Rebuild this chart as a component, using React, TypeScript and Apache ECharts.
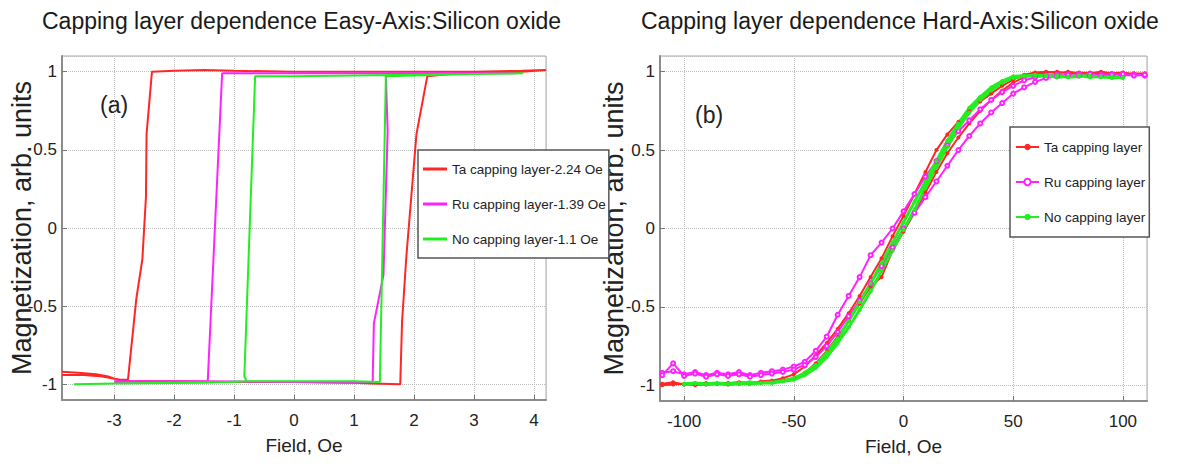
import React, { useEffect, useRef } from "react";
import * as echarts from "echarts";

const SANS = "'Liberation Sans', Arial, sans-serif";

const titleEasy = "Capping layer dependence Easy-Axis:Silicon oxide";
const titleHard = "Capping layer dependence Hard-Axis:Silicon oxide";
const axisNameX = "Field, Oe";
const axisNameY = "Magnetization, arb. units";

const easyNames = ["Ta capping layer-2.24 Oe", "Ru capping layer-1.39 Oe", "No capping layer-1.1 Oe"];
const hardNames = ["Ta capping layer", "Ru capping layer", "No capping layer"];
const colors = ["#ff2626", "#ff22ff", "#22ee22"];

// Easy axis loops: [field Oe, magnetization]
const taEasy = [
  [-3.87, -0.92], [-3.6, -0.925], [-3.3, -0.935], [-3.1, -0.95], [-2.95, -0.97], [-2.77, -0.98],
  [-2.0, -0.98], [-1.0, -0.985], [0, -0.985], [1.0, -0.99], [1.3, -0.995], [1.77, -1.0],
  [1.8, -0.6], [1.87, -0.19], [2.04, 0.6], [2.22, 0.97], [2.6, 0.985], [3.0, 0.99], [3.5, 0.995],
  [3.8, 1.0], [4.2, 1.01], [3.8, 1.005], [3.0, 1.0], [2.0, 1.0], [1.0, 1.0], [0, 1.0], [-1.0, 1.005],
  [-1.5, 1.01], [-2.0, 1.005], [-2.37, 1.0], [-2.46, 0.6], [-2.47, 0.2], [-2.53, -0.2], [-2.63, -0.45],
  [-2.77, -0.97], [-2.9, -0.97], [-3.2, -0.95], [-3.5, -0.94], [-3.87, -0.94],
];
const ruEasy = [
  [-3.0, -0.98], [-1.44, -0.98], [0, -0.985], [1.0, -0.99], [1.31, -0.985], [1.33, -0.61],
  [1.49, -0.3], [1.56, 0.62], [1.53, 0.97], [2.0, 0.985], [3.0, 0.99], [3.7, 0.99], [3.0, 0.99],
  [1.0, 0.99], [0, 0.99], [-1.0, 0.99], [-1.2, 0.99], [-1.44, -0.98], [-1.6, -0.98], [-3.0, -0.985],
];
const noEasy = [
  [-3.67, -1.0], [-3.0, -0.995], [-2.0, -0.99], [-1.0, -0.985], [-0.79, -0.98], [0, -0.98],
  [1.0, -0.98], [1.43, -0.985], [1.53, 0.97], [2.0, 0.975], [3.0, 0.985], [3.82, 0.99], [3.0, 0.985],
  [2.0, 0.98], [1.0, 0.975], [0, 0.97], [-0.65, 0.97], [-0.83, -0.95], [-0.79, -0.98], [-1.5, -0.99],
  [-3.0, -0.995], [-3.67, -1.0],
];

// Hard axis sweeps, field in Oe
const hardField = [
  -110, -105, -100, -95, -90, -85, -80, -75, -70, -65, -60, -55, -50, -45, -40, -35, -30, -25, -20, -15,
  -10, -5, 0, 5, 10, 15, 20, 25, 30, 35, 40, 45, 50, 55, 60, 65, 70, 75, 80, 85, 90, 95, 100, 105, 110,
];
const taHardA = [
  -0.99, -0.98, -0.995, -0.99, -0.985, -0.99, -0.985, -0.98, -0.985, -0.975, -0.97, -0.955, -0.93, -0.88,
  -0.81, -0.73, -0.64, -0.54, -0.43, -0.31, -0.19, -0.05, 0.08, 0.22, 0.36, 0.5, 0.6, 0.68, 0.75, 0.81,
  0.86, 0.91, 0.95, 0.98, 0.995, 1.0, 0.99, 1.0, 0.99, 0.995, 0.985, 0.99, 0.985, 0.99, 0.985,
];
const taHardB = [
  -1.0, -0.995, -0.99, -1.0, -0.995, -0.99, -0.995, -0.99, -0.99, -0.985, -0.98, -0.97, -0.955, -0.92,
  -0.86, -0.78, -0.69, -0.59, -0.48, -0.37, -0.31, -0.14, -0.02, 0.1, 0.23, 0.36, 0.48, 0.58, 0.67, 0.75,
  0.82, 0.88, 0.93, 0.965, 0.985, 0.995, 1.0, 0.99, 0.995, 0.99, 1.0, 0.99, 0.995, 0.985, 0.99,
];
const ruHardA = [
  -0.92, -0.91, -0.93, -0.915, -0.935, -0.92, -0.93, -0.915, -0.935, -0.92, -0.91, -0.9, -0.88, -0.85,
  -0.78, -0.69, -0.55, -0.43, -0.31, -0.17, -0.09, 0.0, 0.11, 0.22, 0.33, 0.43, 0.53, 0.62, 0.69, 0.76,
  0.82, 0.87, 0.91, 0.945, 0.965, 0.975, 0.98, 0.975, 0.985, 0.975, 0.98, 0.985, 0.975, 0.98, 0.975,
];
const ruHardB = [
  -0.935, -0.86, -0.94, -0.925, -0.945, -0.93, -0.94, -0.93, -0.945, -0.935, -0.925, -0.915, -0.9, -0.87,
  -0.82, -0.75, -0.66, -0.56, -0.46, -0.35, -0.24, -0.12, 0.0, 0.1, 0.2, 0.3, 0.4, 0.5, 0.59, 0.67,
  0.74, 0.8, 0.86, 0.9, 0.935, 0.96, 0.97, 0.98, 0.975, 0.985, 0.975, 0.98, 0.985, 0.975, 0.98,
];
const noHardA = [
  null, null, -0.99, -0.985, -0.99, -0.985, -0.99, -0.985, -0.98, -0.985, -0.98, -0.97, -0.955, -0.92,
  -0.87, -0.79, -0.7, -0.59, -0.47, -0.35, -0.22, -0.09, 0.04, 0.17, 0.3, 0.43, 0.56, 0.67, 0.77, 0.84,
  0.9, 0.94, 0.97, 0.975, 0.97, 0.975, 0.965, 0.97, 0.975, 0.965, 0.97, 0.96, 0.965, null, null,
];
const noHardB = [
  null, null, -0.995, -0.99, -0.995, -0.99, -0.995, -0.99, -0.99, -0.985, -0.985, -0.975, -0.965, -0.935,
  -0.89, -0.82, -0.73, -0.63, -0.52, -0.4, -0.27, -0.14, -0.01, 0.12, 0.26, 0.39, 0.52, 0.64, 0.74, 0.82,
  0.88, 0.93, 0.96, 0.97, 0.98, 0.97, 0.975, 0.965, 0.97, 0.975, 0.965, 0.97, 0.96, null, null,
];

function loop(a: (number | null)[], b: (number | null)[]) {
  const up = hardField.map((x, i) => [x, a[i]]).filter((p) => p[1] !== null);
  const down = hardField.map((x, i) => [x, b[i]]).filter((p) => p[1] !== null).reverse();
  return [...up, ...down];
}

const axisCommon = {
  axisLine: { show: true, onZero: false, lineStyle: { color: "#8c8c8c", width: 2 } },
  axisTick: { show: true, inside: true, length: 5, lineStyle: { color: "#777" } },
  splitLine: { show: true, lineStyle: { type: "dotted", color: "#bdbdbd", width: 1 } },
  axisLabel: { showMinLabel: false, showMaxLabel: false, color: "#222", fontFamily: SANS, fontSize: 17 },
  nameMoveOverlap: false,
};

export default function App() {
  const ref = useRef<HTMLDivElement>(null);
  useEffect(() => {
    if (!ref.current) return;
    const chart = echarts.init(ref.current, undefined, { renderer: "svg" });
    const hardData = [loop(taHardA, taHardB), loop(ruHardA, ruHardB), loop(noHardA, noHardB)];
    const easyData = [taEasy, ruEasy, noEasy];
    const legendCommon = {
      orient: "vertical",
      selectedMode: false,
      backgroundColor: "#fff",
      borderColor: "#555",
      borderWidth: 1.5,
      borderRadius: 0,
      textStyle: { fontFamily: SANS, fontSize: 13.5, color: "#222" },
    };
    chart.setOption({
      animation: false,
      backgroundColor: "#fff",
      title: [
        { text: titleEasy, left: 37, top: 4, textStyle: { fontFamily: SANS, fontSize: 23, fontWeight: "normal", color: "#1a1a1a" } },
        { text: titleHard, left: 636, top: 4, textStyle: { fontFamily: SANS, fontSize: 23, fontWeight: "normal", color: "#1a1a1a" } },
      ],
      grid: [
        { left: 62, top: 56, width: 484, height: 344, outerBoundsMode: "none", containLabel: false, show: true, borderColor: "#aaa", borderWidth: 1, backgroundColor: "#fff" },
        { left: 660, top: 56, width: 487, height: 345, outerBoundsMode: "none", containLabel: false, show: true, borderColor: "#aaa", borderWidth: 1, backgroundColor: "#fff" },
      ],
      xAxis: [
        {
          ...axisCommon, type: "value", gridIndex: 0, min: -3.87, max: 4.2, splitNumber: 8,
          axisLabel: { ...axisCommon.axisLabel, margin: 12 },
          name: axisNameX, nameLocation: "middle", nameGap: 36,
          nameTextStyle: { fontFamily: SANS, fontSize: 19, color: "#222" },
        },
        {
          ...axisCommon, type: "value", gridIndex: 1, min: -111, max: 111, splitNumber: 4,
          axisLabel: { ...axisCommon.axisLabel, margin: 12 },
          name: axisNameX, nameLocation: "middle", nameGap: 36,
          nameTextStyle: { fontFamily: SANS, fontSize: 19, color: "#222" },
        },
      ],
      yAxis: [
        {
          ...axisCommon, type: "value", gridIndex: 0, min: -1.1, max: 1.1, splitNumber: 4,
          axisLabel: { ...axisCommon.axisLabel, margin: 5 },
          name: axisNameY, nameLocation: "middle", nameGap: 27,
          nameTextStyle: { fontFamily: SANS, fontSize: 27, color: "#222" },
        },
        {
          ...axisCommon, type: "value", gridIndex: 1, min: -1.1, max: 1.1, splitNumber: 4,
          axisLabel: { ...axisCommon.axisLabel, margin: 5 },
          name: axisNameY, nameLocation: "middle", nameGap: 33,
          nameTextStyle: { fontFamily: SANS, fontSize: 27, color: "#222" },
        },
      ],
      legend: [
        { ...legendCommon, data: easyNames, icon: "rect", left: 418, top: 150, itemWidth: 24, itemHeight: 3, itemGap: 21, padding: [12, 3, 12, 5] },
        { ...legendCommon, data: hardNames, left: 1010, top: 127, itemWidth: 23, itemHeight: 8, itemGap: 21, padding: [13, 4, 13, 5] },
      ],
      graphic: [
        { type: "text", left: 100, top: 93, style: { text: "(a)", fontFamily: SANS, fontSize: 23, fill: "#222" } },
        { type: "text", left: 695, top: 103, style: { text: "(b)", fontFamily: SANS, fontSize: 23, fill: "#222" } },
      ],
      series: [
        ...easyNames.map((name, i) => ({
          name, type: "line", xAxisIndex: 0, yAxisIndex: 0, data: easyData[i], symbol: "none",
          color: colors[i], lineStyle: { width: 2, color: colors[i] },
        })),
        ...hardNames.map((name, i) => ({
          name, type: "line", xAxisIndex: 1, yAxisIndex: 1, data: hardData[i],
          symbol: i === 1 ? "emptyCircle" : "circle", symbolSize: 4,
          color: colors[i], itemStyle: { color: colors[i], borderWidth: 1.5 },
          lineStyle: { width: i === 2 ? 3 : 2, color: colors[i] },
        })),
      ],
    });
    return () => chart.dispose();
  }, []);
  return <div ref={ref} style={{ position: "absolute", left: 0, top: 0, width: 1182, height: 464, background: "#fff" }} />;
}
